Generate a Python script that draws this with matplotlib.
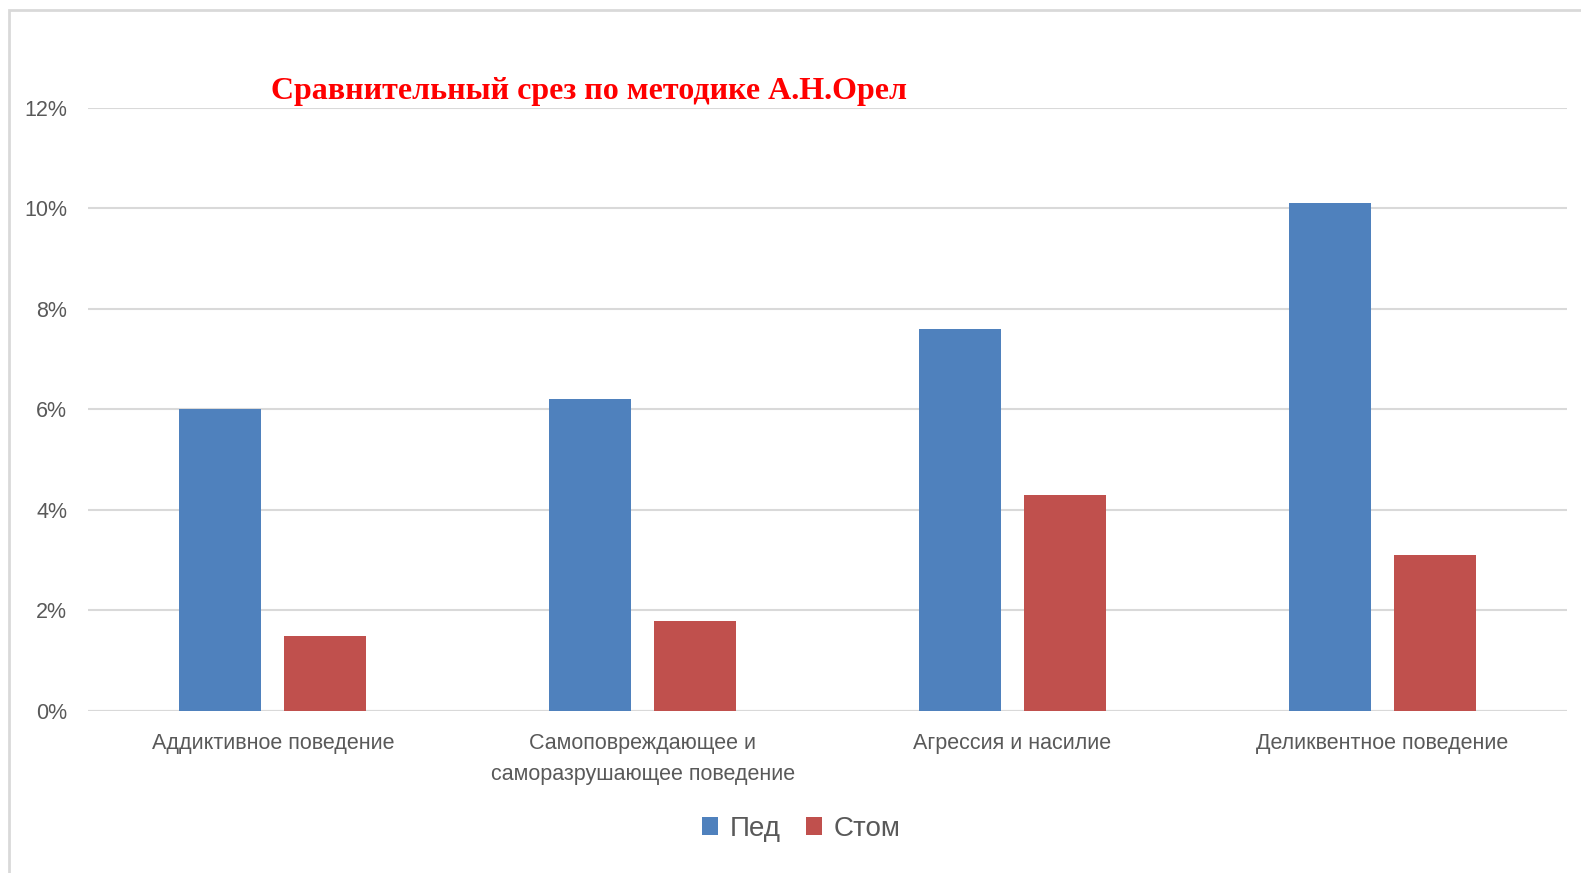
import matplotlib.pyplot as plt
import numpy as np
from matplotlib.patches import Rectangle
from matplotlib.ticker import FuncFormatter

categories = ['Аддиктивное поведение',
              'Самоповреждающее и\nсаморазрушающее поведение',
              'Агрессия и насилие',
              'Деликвентное поведение']
ped = [6.0, 6.2, 7.6, 10.1]
stom = [1.5, 1.8, 4.3, 3.1]

plt.rcParams['font.family'] = ['Liberation Sans', 'DejaVu Sans']

fig = plt.figure(figsize=(15.81, 8.73), dpi=100)
ax = fig.add_axes([0.0557, 0.1856, 0.9354, 0.6907])

# outer chart border
fig.patches.append(Rectangle((9 / 1581, -0.1), 1.2, 1 - 10 / 873 + 0.1,
                             transform=fig.transFigure, fill=False,
                             edgecolor='#d9d9d9', linewidth=2))

x = np.arange(len(categories))
w = 0.222
ax.bar(x - 0.142, ped, w, color='#4f81bd', label='Пед', zorder=3)
ax.bar(x + 0.142, stom, w, color='#c0504d', label='Стом', zorder=3)

ax.set_xlim(-0.5, 3.5)
ax.set_ylim(0, 12)
ax.set_yticks(np.arange(0, 13, 2))
ax.yaxis.set_major_formatter(FuncFormatter(lambda v, p: f'{v:.0f}%'))
ax.grid(axis='y', color='#d9d9d9', linewidth=1.5, zorder=0)
for s in ax.spines.values():
    s.set_visible(False)
ax.axhline(0, color='#d9d9d9', linewidth=1.5, zorder=2)
ax.tick_params(length=0, labelcolor='#595959', labelsize=15.5)
ax.tick_params(axis='y', pad=15)
ax.tick_params(axis='x', pad=16)
ax.set_xticks(x)
ax.set_xticklabels(categories, linespacing=1.6)

fig.text(271 / 1581, 1 - 92 / 873, 'Сравнительный срез по методике А.Н.Орел',
         color='red', fontsize=23, fontweight='bold',
         family='Liberation Serif', va='center', ha='left')

leg = fig.legend(loc='center', bbox_to_anchor=(801 / 1581, 1 - 829 / 873), ncol=2,
                 frameon=False, fontsize=20, handlelength=0.6, handleheight=0.6,
                 handletextpad=0.4, columnspacing=0.9)
for t in leg.get_texts():
    t.set_color('#595959')

fig.savefig('out.png', dpi=100)
